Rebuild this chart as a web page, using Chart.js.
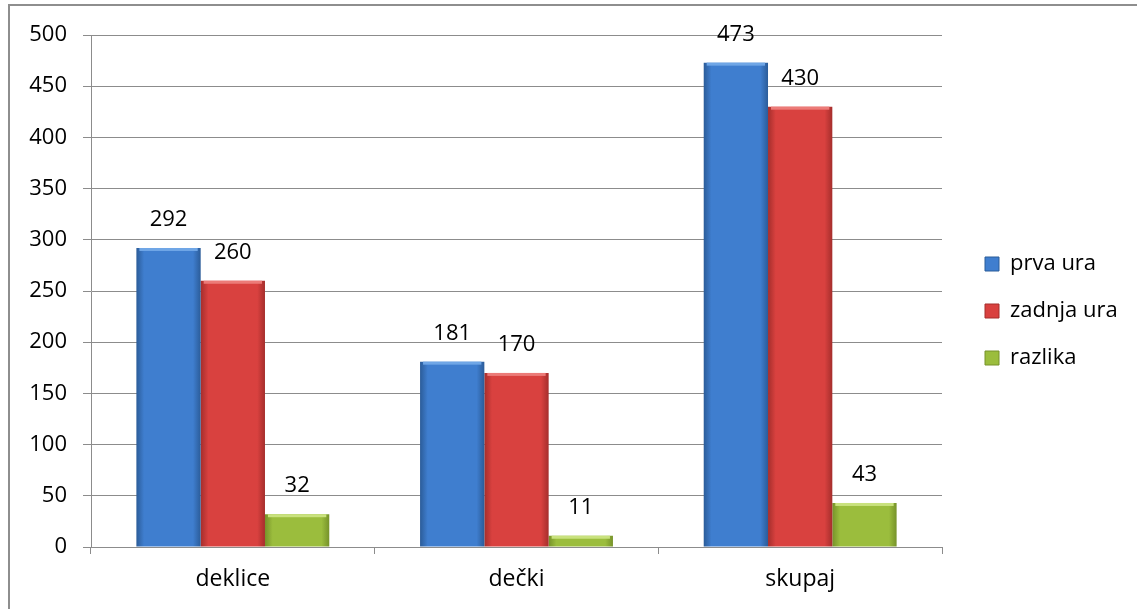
<!DOCTYPE html>
<html>
  <head>
    <title>Chart</title>
    <script src="https://cdn.jsdelivr.net/npm/chart.js@4.4.1/dist/chart.umd.min.js"></script>
    <meta charset="UTF-8">
    <style>
      body { margin: 0; background: #fff; overflow: hidden; }
      #frame { position: absolute; left: 8px; top: 4px; width: 1200px; height: 700px; border: 2px solid #8e8e8e; }
      #wrap { position: absolute; left: 0; top: 0; width: 1137px; height: 609px; }
    </style>
  </head>
  <body>
    <div id="frame"></div>
    <div id="wrap"><canvas id="chart"></canvas></div>
    <script>
      const categories = ['deklice', 'dečki', 'skupaj']
      const seriesNames = ['prva ura', 'zadnja ura', 'razlika']
      const prvaUra = [292, 181, 473]
      const zadnjaUra = [260, 170, 430]
      const razlika = [32, 11, 43]
      const yTicks = [0, 50, 100, 150, 200, 250, 300, 350, 400, 450, 500]

      const fontFamily = '"Open Sans", "DejaVu Sans", sans-serif'
      // [edge, middle, highlight]
      const palette = [
        ['#2b5c99', '#3f7ecf', '#6fa6e6'],
        ['#a52e2c', '#d9413f', '#ec7b78'],
        ['#76922a', '#9bbd3d', '#c9e27e']
      ]

      function barFill(c) {
        const cols = palette[c.datasetIndex]
        const meta = c.chart.getDatasetMeta(c.datasetIndex)
        const el = meta.data[c.dataIndex]
        if (!el || !el.width) return cols[1]
        const x0 = el.x - el.width / 2, x1 = el.x + el.width / 2
        const g = c.chart.ctx.createLinearGradient(x0, 0, x1, 0)
        g.addColorStop(0, cols[0])
        g.addColorStop(0.12, cols[1])
        g.addColorStop(0.5, cols[1])
        g.addColorStop(0.88, cols[1])
        g.addColorStop(1, cols[0])
        return g
      }

      const valueLabels = {
        id: 'valueLabels',
        afterDatasetsDraw(chart) {
          const ctx = chart.ctx
          ctx.save()
          ctx.font = '22px ' + fontFamily
          ctx.textAlign = 'center'
          ctx.textBaseline = 'middle'
          chart.data.datasets.forEach((ds, i) => {
            chart.getDatasetMeta(i).data.forEach((el, j) => {
              // small bevel highlight on top
              const w = el.width
              ctx.fillStyle = palette[i][2]
              ctx.fillRect(el.x - w / 2 + 3, el.y, w - 6, 3)
              ctx.fillStyle = '#000'
              ctx.fillText(ds.data[j], el.x, el.y - 28)
            })
          })
          ctx.restore()
        }
      }

      const legendPlace = {
        id: 'legendPlace',
        beforeInit(chart) {
          const fit = chart.legend.fit
          chart.legend.fit = function () {
            fit.call(this)
            this.width = 195
          }
        },
        afterLayout(chart) {
          const l = chart.legend
          l.left += 18; l.right += 18
          l.top -= 11; l.bottom -= 11
        }
      }

      const chart = new Chart(document.getElementById('chart').getContext('2d'), {
        type: 'bar',
        data: {
          labels: categories,
          datasets: [
            { label: seriesNames[0], data: prvaUra },
            { label: seriesNames[1], data: zadnjaUra },
            { label: seriesNames[2], data: razlika }
          ].map((d, i) => Object.assign(d, {
            backgroundColor: barFill,
            borderWidth: 0,
            categoryPercentage: 0.68,
            barPercentage: 1
          }))
        },
        options: {
          responsive: true,
          maintainAspectRatio: false,
          animation: false,
          layout: { padding: { top: 35, left: 0, right: 0, bottom: 0 } },
          plugins: {
            tooltip: { enabled: false },
            legend: {
              position: 'right',
              labels: {
                boxWidth: 14,
                boxHeight: 14,
                padding: 25,
                color: '#000',
                font: { family: fontFamily, size: 22 },
                generateLabels(chart) {
                  return chart.data.datasets.map((ds, i) => ({
                    text: ds.label,
                    fillStyle: palette[i][1],
                    strokeStyle: palette[i][0],
                    lineWidth: 1,
                    datasetIndex: i
                  }))
                }
              }
            }
          },
          scales: {
            x: {
              grid: { display: true, drawOnChartArea: false, offset: true, tickLength: 7, color: '#8c8c8c' },
              border: { color: '#8c8c8c' },
              ticks: { color: '#000', padding: 12, font: { family: fontFamily, size: 23 } },
              afterFit(s) { s.height = 62 }
            },
            y: {
              min: 0,
              max: 500,
              afterBuildTicks(s) { s.ticks = yTicks.map(v => ({ value: v })) },
              grid: { color: '#8c8c8c', tickLength: 8 },
              border: { color: '#8c8c8c' },
              ticks: { color: '#000', padding: 16, font: { family: fontFamily, size: 22 } },
              afterFit(s) { s.width = 91 }
            }
          }
        },
        plugins: [valueLabels, legendPlace]
      })
      chart.update('none')
    </script>
  </body>
</html>
